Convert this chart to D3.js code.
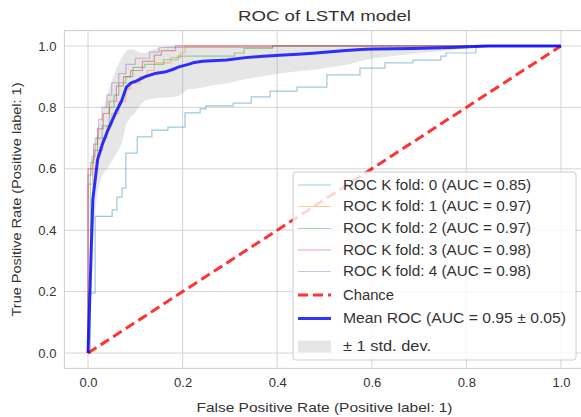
<!DOCTYPE html>
<html>
<head>
<meta charset="utf-8">
<script src="https://cdn.jsdelivr.net/npm/d3@7"></script>
<style>
  html, body { margin: 0; padding: 0; background: #fff; }
  svg { display: block; font-family: "Liberation Sans", Arial, sans-serif; }
</style>
</head>
<body>
<svg id="chart" width="581" height="417"></svg>
<script>
// ---------- data ----------
const title = "ROC of LSTM model";
const xLabel = "False Positive Rate (Positive label: 1)";
const yLabel = "True Positive Rate (Positive label: 1)";
const ticks = [0, 0.2, 0.4, 0.6, 0.8, 1.0];

// per-fold ROC step points [fpr, tpr] (horizontal then vertical)
const fold0 = [[0,0],[0,0.195],[0.015,0.445],[0.051,0.466],[0.061,0.508],[0.072,0.537],[0.080,0.651],[0.104,0.704],[0.135,0.726],[0.169,0.736],[0.205,0.782],[0.237,0.795],[0.249,0.805],[0.307,0.814],[0.345,0.834],[0.385,0.853],[0.442,0.866],[0.505,0.906],[0.575,0.928],[0.628,0.945],[0.687,0.954],[0.746,0.967],[0.757,0.977],[0.820,0.997],[0.844,1.0],[1,1]];
const fold1 = [[0,0],[0,0.55],[0.01,0.6],[0.02,0.66],[0.03,0.7],[0.04,0.74],[0.05,0.78],[0.065,0.82],[0.08,0.86],[0.09,0.88],[0.11,0.9],[0.125,0.92],[0.14,0.945],[0.175,0.962],[0.195,0.977],[0.205,1.0],[1,1]];
const fold2 = [[0,0],[0.005,0.62],[0.012,0.66],[0.02,0.7],[0.03,0.74],[0.045,0.8],[0.055,0.84],[0.065,0.88],[0.08,0.9],[0.095,0.93],[0.12,0.94],[0.16,0.955],[0.19,0.967],[0.31,0.977],[0.33,0.992],[0.39,1.0],[1,1]];
const fold3 = [[0,0],[0,0.6],[0.01,0.63],[0.012,0.68],[0.02,0.73],[0.032,0.78],[0.045,0.82],[0.06,0.87],[0.075,0.9],[0.09,0.92],[0.115,0.95],[0.14,0.97],[0.155,0.985],[0.185,1.0],[1,1]];
const fold4 = [[0,0],[0,0.58],[0.008,0.64],[0.015,0.7],[0.022,0.76],[0.03,0.8],[0.04,0.84],[0.05,0.88],[0.065,0.91],[0.08,0.94],[0.1,0.96],[0.13,0.98],[0.15,0.995],[0.39,1.0],[1,1]];
const foldLabels = ["ROC K fold: 0 (AUC = 0.85)","ROC K fold: 1 (AUC = 0.97)","ROC K fold: 2 (AUC = 0.97)","ROC K fold: 3 (AUC = 0.98)","ROC K fold: 4 (AUC = 0.98)"];
const foldColors = ["#1f77b4","#ff7f0e","#2ca02c","#d62728","#9467bd"];

// mean ROC and its standard deviation
const meanFpr = [0,0.0101,0.0202,0.0303,0.0404,0.0505,0.0606,0.0707,0.0808,0.0909,0.101,0.111,0.121,0.141,0.162,0.182,0.192,0.212,0.222,0.242,0.263,0.293,0.333,0.364,0.404,0.444,0.475,0.545,0.586,0.606,0.687,0.77,0.843,1.0];
const meanTpr = [0,0.50,0.63,0.68,0.72,0.755,0.79,0.82,0.865,0.88,0.885,0.893,0.90,0.91,0.915,0.925,0.932,0.94,0.945,0.95,0.952,0.954,0.962,0.966,0.97,0.973,0.976,0.985,0.989,0.99,0.992,0.995,1.0,1.0];
const stdTpr  = [0,0.12,0.10,0.10,0.12,0.13,0.14,0.14,0.12,0.11,0.10,0.085,0.077,0.08,0.083,0.09,0.095,0.08,0.085,0.085,0.08,0.076,0.07,0.066,0.06,0.055,0.054,0.047,0.035,0.03,0.017,0.008,0,0];

const chanceLabel = "Chance";
const meanLabel = "Mean ROC (AUC = 0.95 \u00b1 0.05)";
const stdLabel = "\u00b1 1 std. dev.";

// ---------- drawing ----------
const svg = d3.select("#chart");
const x = d3.scaleLinear().domain([-0.05, 1.05]).range([64.4, 584.6]);
const y = d3.scaleLinear().domain([-0.05, 1.05]).range([368.4, 30.6]);
const textColor = "#333";
const gridColor = "#d5d5d5";

// grid
const g = svg.append("g");
g.selectAll(".vg").data(ticks).join("line")
  .attr("x1", d => x(d)).attr("x2", d => x(d))
  .attr("y1", y.range()[0]).attr("y2", y.range()[1])
  .attr("stroke", gridColor).attr("stroke-width", 1);
g.selectAll(".hg").data(ticks).join("line")
  .attr("x1", x.range()[0]).attr("x2", x.range()[1])
  .attr("y1", d => y(d)).attr("y2", d => y(d))
  .attr("stroke", gridColor).attr("stroke-width", 1);

// spines
svg.append("rect")
  .attr("x", x.range()[0]).attr("y", y.range()[1])
  .attr("width", x.range()[1] - x.range()[0])
  .attr("height", y.range()[0] - y.range()[1])
  .attr("fill", "none").attr("stroke", "#cccccc").attr("stroke-width", 1);

// axes (labels only, matching seaborn whitegrid without tick marks)
const xAxis = d3.axisBottom(x).tickValues(ticks).tickFormat(d3.format(".1f")).tickSize(0).tickPadding(9);
const yAxis = d3.axisLeft(y).tickValues(ticks).tickFormat(d3.format(".1f")).tickSize(0).tickPadding(8);
const gx = svg.append("g").attr("transform", `translate(0,${y.range()[0]})`).call(xAxis);
const gy = svg.append("g").attr("transform", `translate(${x.range()[0]},0)`).call(yAxis);
[gx, gy].forEach(a => {
  a.select(".domain").remove();
  a.selectAll("text").attr("fill", textColor).style("font-size", "13px").style("font-family", "'Liberation Sans', Arial, sans-serif");
});

// std band
const band = d3.area()
  .x((d, i) => x(meanFpr[i]))
  .y0((d, i) => y(Math.max(meanTpr[i] - stdTpr[i], 0)))
  .y1((d, i) => y(Math.min(meanTpr[i] + stdTpr[i], 1)));
svg.append("path").datum(meanFpr).attr("d", band)
  .attr("fill", "#808080").attr("fill-opacity", 0.2).attr("stroke", "none");

// folds
const stepLine = d3.line().x(d => x(d[0])).y(d => y(d[1])).curve(d3.curveStepAfter);
const folds = [fold0, fold1, fold2, fold3, fold4];
folds.forEach((f, i) => {
  svg.append("path").datum(f).attr("d", stepLine)
    .attr("fill", "none").attr("stroke", foldColors[i]).attr("stroke-opacity", 0.42).attr("stroke-width", 1.2);
});

// chance
svg.append("path").datum([[0,0],[1,1]])
  .attr("d", d3.line().x(d => x(d[0])).y(d => y(d[1])))
  .attr("fill", "none").attr("stroke", "#ff0000").attr("stroke-opacity", 0.8)
  .attr("stroke-width", 3).attr("stroke-dasharray", "10,5");

// mean
const meanLine = d3.line().x((d, i) => x(meanFpr[i])).y((d, i) => y(meanTpr[i]));
svg.append("path").datum(meanFpr).attr("d", meanLine)
  .attr("fill", "none").attr("stroke", "#0000ff").attr("stroke-opacity", 0.8)
  .attr("stroke-width", 3).attr("stroke-linejoin", "round");

// title and labels
const stretch = (sel, len) => sel.attr("textLength", len).attr("lengthAdjust", "spacingAndGlyphs");
stretch(svg.append("text").attr("x", (x.range()[0] + x.range()[1]) / 2).attr("y", 21)
  .attr("text-anchor", "middle").attr("fill", textColor).style("font-size", "15px").text(title), 173);
stretch(svg.append("text").attr("x", 324.5).attr("y", 412)
  .attr("text-anchor", "middle").attr("fill", textColor).style("font-size", "13.5px").text(xLabel), 256);
stretch(svg.append("text").attr("transform", `translate(21,${(y.range()[0] + y.range()[1]) / 2}) rotate(-90)`)
  .attr("text-anchor", "middle").attr("fill", textColor).style("font-size", "13.5px").text(yLabel), 234);

// legend
const lg = svg.append("g");
lg.append("rect").attr("x", 293).attr("y", 172).attr("width", 283).attr("height", 188).attr("rx", 3)
  .attr("fill", "#fff").attr("fill-opacity", 0.8).attr("stroke", "#cccccc");
const rowY = [185, 206.5, 228.5, 250, 271.5, 295, 318.5];
const handleX0 = 298, handleX1 = 331, textX = 343;
const legendText = (yy, s, len) => stretch(lg.append("text").attr("x", textX).attr("y", yy).attr("dy", "0.35em")
    .attr("fill", textColor).style("font-size", "14px").text(s), len);
foldLabels.forEach((lab, i) => {
  lg.append("line").attr("x1", handleX0).attr("x2", handleX1).attr("y1", rowY[i]).attr("y2", rowY[i])
    .attr("stroke", foldColors[i]).attr("stroke-opacity", 0.42).attr("stroke-width", 1.2);
  legendText(rowY[i], lab, 188);
});
lg.append("line").attr("x1", handleX0).attr("x2", handleX1).attr("y1", rowY[5]).attr("y2", rowY[5])
  .attr("stroke", "#ff0000").attr("stroke-opacity", 0.8).attr("stroke-width", 3).attr("stroke-dasharray", "10,5");
legendText(rowY[5], chanceLabel, 51);
lg.append("line").attr("x1", handleX0).attr("x2", handleX1).attr("y1", rowY[6]).attr("y2", rowY[6])
  .attr("stroke", "#0000ff").attr("stroke-opacity", 0.8).attr("stroke-width", 3);
legendText(rowY[6], meanLabel, 223);
lg.append("rect").attr("x", handleX0).attr("y", 340.5).attr("width", handleX1 - handleX0).attr("height", 12)
  .attr("fill", "#808080").attr("fill-opacity", 0.2);
legendText(346.5, stdLabel, 88);
</script>
</body>
</html>
